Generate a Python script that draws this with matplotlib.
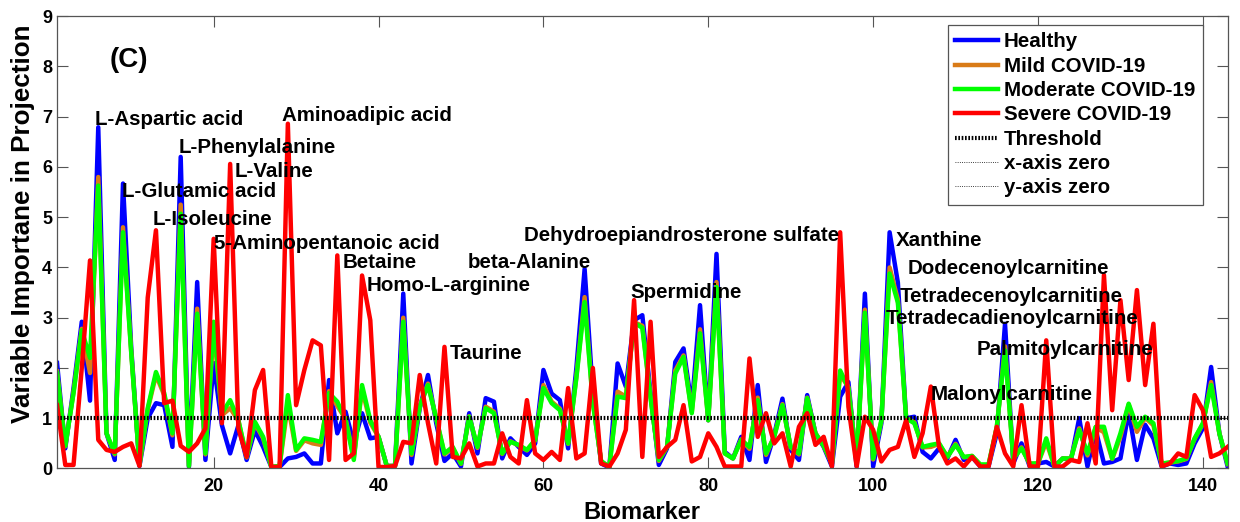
import matplotlib.pyplot as plt
import numpy as np

plt.rcParams['font.family'] = ['Liberation Sans', 'DejaVu Sans']
plt.rcParams['font.weight'] = 'bold'

# VIP scores per biomarker
healthy = [2.1, 0.4, 1.6, 2.92, 1.35, 6.79, 0.7, 0.17, 5.67, 2.4,
           0.05, 1.0, 1.3, 1.26, 0.43, 6.2, 0.03, 3.71, 0.17, 2.1,
           0.86, 0.3, 0.86, 0.17, 0.76, 0.43, 0.03, 0.03, 0.2, 0.23,
           0.3, 0.1, 0.1, 1.76, 0.7, 1.13, 0.5, 1.1, 0.6, 0.63,
           0.05, 0.05, 3.48, 0.1, 1.2, 1.86, 0.9, 0.15, 0.3, 0.04,
           1.1, 0.3, 1.4, 1.33, 0.2, 0.6, 0.43, 0.27, 0.5, 1.96,
           1.49, 1.36, 0.4, 2.0, 3.97, 1.5, 0.1, 0.02, 2.09, 1.63,
           2.95, 3.05, 1.5, 0.07, 0.4, 2.12, 2.39, 1.23, 3.25, 0.96,
           4.27, 0.33, 0.2, 0.63, 0.17, 1.66, 0.13, 0.67, 1.39, 0.37,
           0.17, 1.46, 0.7, 0.43, 0.04, 1.43, 1.72, 0.04, 3.48, 0.04,
           0.9, 4.7, 3.7, 1.0, 1.03, 0.33, 0.2, 0.4, 0.2, 0.57,
           0.17, 0.23, 0.04, 0.04, 0.7, 2.88, 0.1, 0.5, 0.04, 0.1,
           0.13, 0.04, 0.2, 0.17, 1.0, 0.04, 0.77, 0.1, 0.13, 0.2,
           1.13, 0.17, 0.87, 0.6, 0.04, 0.1, 0.07, 0.1, 0.5, 0.8,
           2.02, 0.7, 0.04]

mild = [1.93, 0.44, 1.52, 2.78, 1.9, 5.8, 0.7, 0.28, 4.8, 2.32,
        0.07, 1.17, 1.86, 1.46, 0.66, 5.25, 0.05, 3.18, 0.28, 2.78,
        1.06, 1.2, 0.95, 0.22, 0.9, 0.6, 0.03, 0.05, 1.27, 0.35,
        0.56, 0.5, 0.47, 1.54, 1.24, 0.99, 0.22, 1.58, 0.91, 0.63,
        0.05, 0.05, 3.0, 0.27, 1.23, 1.69, 0.99, 0.28, 0.41, 0.09,
        1.04, 0.41, 1.23, 1.13, 0.29, 0.54, 0.46, 0.36, 0.56, 1.66,
        1.33, 1.19, 0.49, 1.83, 3.41, 1.33, 0.14, 0.03, 1.53, 1.43,
        2.91, 2.84, 1.42, 0.15, 0.43, 1.95, 2.25, 1.12, 2.77, 0.96,
        3.71, 0.3, 0.2, 0.58, 0.39, 1.41, 0.27, 0.64, 1.28, 0.42,
        0.28, 1.41, 0.7, 0.45, 0.09, 1.87, 1.62, 0.13, 3.16, 0.18,
        0.95, 4.0, 3.36, 1.0, 0.92, 0.42, 0.43, 0.49, 0.23, 0.49,
        0.22, 0.25, 0.07, 0.07, 0.81, 2.43, 0.19, 0.42, 0.09, 0.1,
        0.53, 0.04, 0.2, 0.2, 0.8, 0.26, 0.82, 0.72, 0.19, 0.63,
        1.27, 0.73, 1.01, 0.86, 0.09, 0.12, 0.14, 0.19, 0.59, 0.89,
        1.72, 0.7, 0.09]

moderate = [1.9, 0.45, 1.5, 2.75, 2.2, 5.63, 0.7, 0.3, 4.7, 2.3,
            0.07, 1.2, 1.92, 1.5, 0.7, 5.07, 0.05, 3.08, 0.3, 2.92,
            1.1, 1.36, 0.96, 0.23, 0.93, 0.63, 0.03, 0.05, 1.46, 0.37,
            0.6, 0.57, 0.53, 1.5, 1.33, 0.96, 0.17, 1.66, 0.96, 0.63,
            0.05, 0.05, 2.92, 0.3, 1.23, 1.66, 1.0, 0.3, 0.43, 0.1,
            1.03, 0.43, 1.2, 1.1, 0.3, 0.53, 0.47, 0.37, 0.57, 1.6,
            1.3, 1.16, 0.5, 1.8, 3.31, 1.3, 0.15, 0.03, 1.43, 1.4,
            2.9, 2.8, 1.4, 0.17, 0.43, 1.89, 2.22, 1.1, 2.69, 0.96,
            3.61, 0.3, 0.2, 0.57, 0.43, 1.36, 0.3, 0.63, 1.26, 0.43,
            0.3, 1.4, 0.7, 0.45, 0.1, 1.95, 1.6, 0.15, 3.1, 0.2,
            0.96, 3.88, 3.3, 1.0, 0.9, 0.43, 0.47, 0.5, 0.23, 0.47,
            0.23, 0.25, 0.08, 0.08, 0.83, 2.35, 0.2, 0.4, 0.1, 0.1,
            0.6, 0.04, 0.2, 0.2, 0.77, 0.3, 0.83, 0.83, 0.2, 0.7,
            1.29, 0.83, 1.03, 0.9, 0.1, 0.12, 0.15, 0.2, 0.6, 0.9,
            1.66, 0.7, 0.1]

severe = [1.26, 0.07, 0.07, 2.0, 4.14, 0.57, 0.37, 0.33, 0.43, 0.5,
          0.05, 3.4, 4.74, 1.3, 1.35, 0.45, 0.33, 0.5, 0.8, 4.57,
          0.9, 6.06, 0.8, 0.23, 1.56, 1.96, 0.03, 0.03, 6.86, 1.26,
          1.96, 2.55, 2.45, 0.17, 4.24, 0.17, 0.3, 3.84, 2.95, 0.03,
          0.03, 0.05, 0.53, 0.5, 1.86, 0.9, 0.1, 2.42, 0.23, 0.2,
          0.5, 0.04, 0.1, 0.1, 0.7, 0.23, 0.1, 1.36, 0.3, 0.17,
          0.33, 0.17, 1.6, 0.2, 0.3, 2.0, 0.1, 0.04, 0.3, 0.77,
          3.35, 0.23, 2.92, 0.23, 0.43, 0.57, 1.26, 0.14, 0.23, 0.7,
          0.43, 0.04, 0.04, 0.04, 2.19, 0.63, 1.1, 0.5, 0.7, 0.04,
          0.83, 1.1, 0.47, 0.63, 0.04, 4.7, 1.23, 0.04, 1.03, 0.77,
          0.14, 0.37, 0.43, 0.96, 0.23, 0.7, 1.63, 0.43, 0.1, 0.2,
          0.04, 0.23, 0.04, 0.04, 0.83, 0.3, 0.04, 1.26, 0.04, 0.04,
          2.55, 0.04, 0.04, 0.17, 0.13, 0.9, 0.1, 3.85, 1.16, 3.35,
          1.76, 3.55, 1.66, 2.88, 0.04, 0.1, 0.3, 0.23, 1.46, 1.16,
          0.23, 0.3, 0.43]

threshold = 1.0
biomarker = np.arange(1, len(healthy) + 1)

# labelled metabolites: (name, x, y) in data units
names = [
    ("L-Aspartic acid", 5.6, 6.95),
    ("L-Phenylalanine", 15.7, 6.39),
    ("L-Valine", 22.5, 5.91),
    ("L-Glutamic acid", 8.9, 5.52),
    ("L-Isoleucine", 12.6, 4.96),
    ("5-Aminopentanoic acid", 20.0, 4.48),
    ("Aminoadipic acid", 28.3, 7.03),
    ("Betaine", 35.6, 4.1),
    ("Homo-L-arginine", 38.5, 3.65),
    ("beta-Alanine", 50.8, 4.09),
    ("Taurine", 48.6, 2.28),
    ("Dehydroepiandrosterone sulfate", 57.6, 4.64),
    ("Spermidine", 70.5, 3.51),
    ("Xanthine", 102.7, 4.54),
    ("Dodecenoylcarnitine", 104.2, 3.98),
    ("Tetradecenoylcarnitine", 103.2, 3.43),
    ("Tetradecadienoylcarnitine", 101.5, 2.99),
    ("Palmitoylcarnitine", 112.6, 2.37),
    ("Malonylcarnitine", 107.0, 1.48),
]

fig = plt.figure(figsize=(12.4, 5.22), dpi=100)
ax = fig.add_axes([0.046, 0.1025, 0.944, 0.8665])

ax.plot(biomarker, healthy, color='#0000FF', lw=3.2, label='Healthy')
ax.plot(biomarker, mild, color='#D97B17', lw=3.2, label='Mild COVID-19')
ax.plot(biomarker, moderate, color='#00FF00', lw=3.2, label='Moderate COVID-19')
ax.plot(biomarker, severe, color='#FF0000', lw=3.2, label='Severe COVID-19')
ax.axhline(threshold, color='black', lw=3, linestyle=(0, (0.4, 0.4)), label='Threshold')
ax.axhline(0, color='black', lw=0.6, linestyle=':', label='x-axis zero')
ax.axvline(0, color='black', lw=0.6, linestyle=':', label='y-axis zero')

for name, x, y in names:
    ax.text(x, y, name, fontsize=14.8, fontweight='bold', va='center', ha='left')

ax.text(7.4, 8.12, '(C)', fontsize=20, fontweight='bold', va='center', ha='left')

ax.set_xlim(1, 143)
ax.set_ylim(0, 9)
ax.set_xticks(np.arange(20, 141, 20))
ax.set_yticks(np.arange(0, 10, 1))
ax.tick_params(direction='in', length=8, width=0.8, color='#555555',
               top=True, right=True, labelsize=13)
ax.tick_params(axis='x', pad=6.5)
ax.tick_params(axis='y', pad=3.5)
for s in ax.spines.values():
    s.set_color('#555555')
    s.set_linewidth(0.9)
for t in ax.get_xticklabels() + ax.get_yticklabels():
    t.set_fontweight('bold')

ax.set_xlabel('Biomarker', fontsize=17, fontweight='bold', va='baseline')
ax.xaxis.set_label_coords(0.5, -0.112)
ax.set_ylabel('Variable Importane in Projection', fontsize=18.7, fontweight='bold', va='center')
ax.yaxis.set_label_coords(-0.0295, 0.54)

leg = ax.legend(loc='upper right', bbox_to_anchor=(0.9787, 0.980), borderaxespad=0,
                fancybox=False, framealpha=1, edgecolor='#555555', fontsize=14.8,
                handlelength=2.1, handletextpad=0.3, labelspacing=0.26, borderpad=0.35)
leg.get_frame().set_linewidth(0.9)
for t in leg.get_texts():
    t.set_fontweight('bold')

fig.savefig('out.png', dpi=100)
